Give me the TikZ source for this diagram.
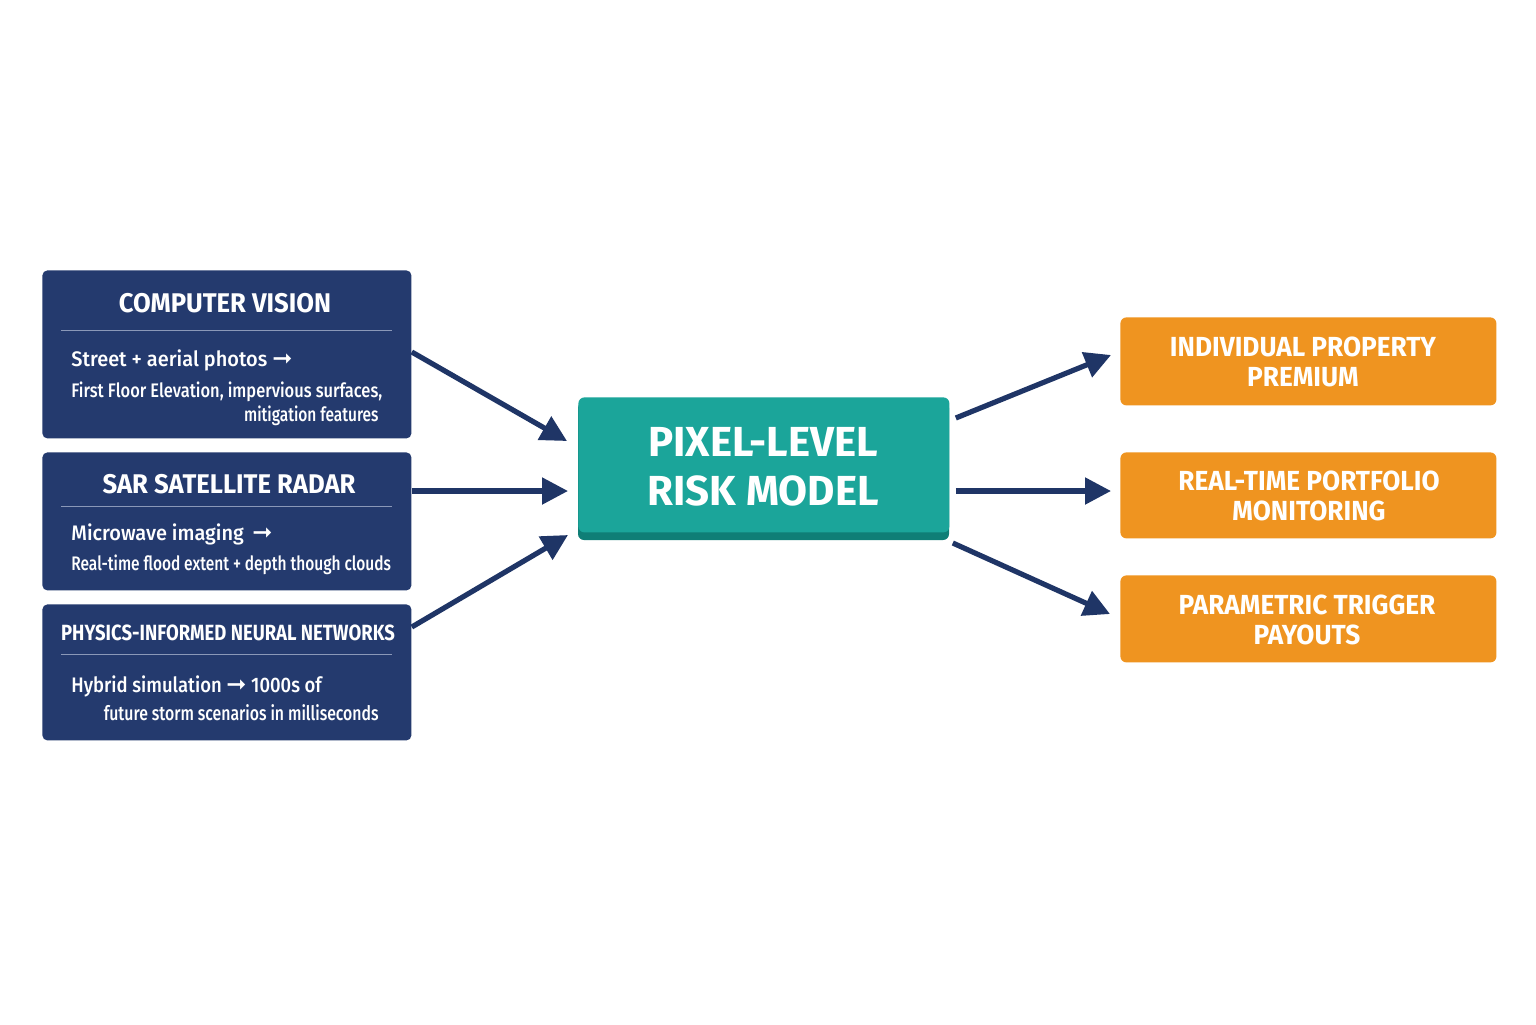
\documentclass[tikz,border=0pt]{standalone}
\usepackage{fontspec}
\setmainfont{Fira Sans}[FakeStretch=0.95]
\newfontfamily\fcond{Fira Sans}[FakeStretch=0.84]
\newfontfamily\fwide{Fira Sans}
\newfontfamily\fmedA{Fira Sans Medium}[FakeStretch=0.95]
\newfontfamily\fmedB{Fira Sans Medium}[FakeStretch=0.84]
\newfontfamily\fmedC{Fira Sans Medium}[FakeStretch=0.79]
\newfontfamily\fmedH{Fira Sans Medium}[FakeStretch=0.88]
\newfontfamily\farr{DejaVu Sans}
\newcommand{\rarr}{{\farr\bfseries\fontsize{12}{10}\selectfont ➞}}
\usetikzlibrary{arrows.meta}
\definecolor{navy}{HTML}{243A6E}
\definecolor{navyarr}{HTML}{1F3566}
\definecolor{teal}{HTML}{1BA59A}
\definecolor{tealdark}{HTML}{0F7E76}
\definecolor{orng}{HTML}{EF9420}
\definecolor{rulec}{HTML}{8A98B8}
\tikzset{
  navybox/.style={fill=navy, rounded corners=2.5pt, anchor=north west, inner sep=0pt},
  orangebox/.style={fill=orng, rounded corners=3pt, anchor=north west, inner sep=0pt},
  ttl/.style={text=white, font=\bfseries\fontsize{13.5}{15}\selectfont, anchor=base, inner sep=0pt},
  bodyA/.style={text=white, font=\fmedA\fontsize{10.5}{12}\selectfont, inner sep=0pt},
  bodyB/.style={text=white, font=\fmedB\fontsize{9.8}{12}\selectfont, inner sep=0pt},
  outtxt/.style={text=white, font=\bfseries\fontsize{13.8}{15}\selectfont, align=center, inner sep=0pt},
  arr/.style={draw=navyarr, line width=2.6pt, -{Triangle[length=13pt,width=13pt]}},
  rul/.style={draw=rulec, line width=0.5pt}
}
\begin{document}
\begin{tikzpicture}[x=0.5pt,y=-0.5pt]
\useasboundingbox[fill=white] (0,0) rectangle (1536,1024);
% left boxes
\node[navybox, minimum width=184.5pt, minimum height=84pt] (cv) at (42,270) {};
\node[navybox, minimum width=184.5pt, minimum height=69pt] (sar) at (42,452) {};
\node[navybox, minimum width=184.5pt, minimum height=68pt] (pinn) at (42,604) {};
% titles
\node[ttl] (cvt) at (225,312) {COMPUTER VISION};
\node[ttl] (sart) at (229,493) {SAR SATELLITE RADAR};
\node[ttl, font=\fcond\bfseries\fontsize{11}{13}\selectfont] (pinnt) at (228,640) {PHYSICS-INFORMED NEURAL NETWORKS};
\draw[rul] (61,330) -- (392,330);
\draw[rul] (61,506) -- (392,506);
\draw[rul] (61,654) -- (392,654);
% bodies
\node[bodyA, anchor=base west] (cv1) at (71,366) {Street + aerial photos \rarr};
\node[bodyB, anchor=base west] (cv2) at (71,397) {First Floor Elevation, impervious surfaces,};
\node[bodyB, font=\fmedC\fontsize{9.8}{12}\selectfont, anchor=base east] (cv3) at (379,421) {mitigation features};
\node[bodyA, anchor=base west] (sar1) at (71,540) {Microwave imaging \,\rarr};
\node[bodyB, font=\fmedC\fontsize{9.8}{12}\selectfont, anchor=base west] (sar2) at (71,570) {Real-time flood extent + depth though clouds};
\node[bodyA, font=\fmedH\fontsize{10.5}{12}\selectfont, anchor=base west] (pinn1) at (71,692) {Hybrid simulation \rarr{} 1000s of};
\node[bodyB, font=\fmedC\fontsize{10}{12}\selectfont, anchor=base east] (pinn2) at (379,720) {future storm scenarios in milliseconds};
% center
\fill[tealdark, rounded corners=3pt] (578,402) rectangle (949,540);
\node[fill=teal, rounded corners=3pt, anchor=north west, inner sep=0pt, minimum width=185.5pt, minimum height=67.5pt] (risk) at (578,397) {};
\node[text=white, font=\fwide\bfseries\fontsize{21}{24.5}\selectfont, align=center, inner sep=0pt] (riskt) at (763,467) {PIXEL-LEVEL\\RISK MODEL};
% right boxes
\node[orangebox, minimum width=188pt, minimum height=44pt] (o1) at (1120,317) {};
\node[orangebox, minimum width=188pt, minimum height=43pt] (o2) at (1120,452) {};
\node[orangebox, minimum width=188pt, minimum height=43.5pt] (o3) at (1120,575) {};
\node[outtxt] (o1t) at (1303,362) {INDIVIDUAL PROPERTY\\PREMIUM};
\node[outtxt] (o2t) at (1309,496) {REAL-TIME PORTFOLIO\\MONITORING};
\node[outtxt] (o3t) at (1307,620) {PARAMETRIC TRIGGER\\PAYOUTS};
% arrows
\draw[arr] (cv.east |- 0,352) -- ([xshift=-5.5pt]risk.west |- 0,441);
\draw[arr] (sar.east |- 0,491) -- ([xshift=-5pt]risk.west |- 0,491);
\draw[arr] (pinn.east |- 0,627) -- ([xshift=-5pt]risk.west |- 0,535);
\draw[arr] ([xshift=3pt]risk.east |- 0,418) -- ([xshift=-4.5pt]o1.west |- 0,355);
\draw[arr] ([xshift=3pt]risk.east |- 0,491) -- ([xshift=-4.5pt]o2.west |- 0,491);
\draw[arr] ([xshift=1.5pt]risk.east |- 0,543) -- ([xshift=-5pt]o3.west |- 0,614);
\end{tikzpicture}
\end{document}
